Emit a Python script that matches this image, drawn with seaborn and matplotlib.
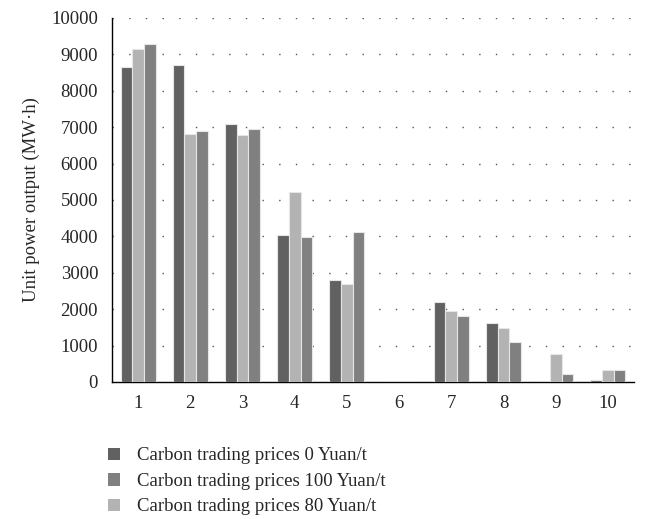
import matplotlib
matplotlib.use("Agg")
import matplotlib.pyplot as plt
from matplotlib.patches import Patch
import seaborn as sns
import pandas as pd

units = ["1", "2", "3", "4", "5", "6", "7", "8", "9", "10"]
price_0 = [8650, 8700, 7100, 4050, 2800, 0, 2200, 1620, 0, 50]
price_80 = [9150, 6800, 6780, 5230, 2700, 0, 1950, 1490, 760, 320]
price_100 = [9280, 6900, 6950, 3980, 4120, 0, 1800, 1090, 230, 320]

series_names = [
    "Carbon trading prices 0 Yuan/t",
    "Carbon trading prices 80 Yuan/t",
    "Carbon trading prices 100 Yuan/t",
]
series_values = [price_0, price_80, price_100]
series_colors = ["#616161", "#b3b3b3", "#808080"]
legend_order = [0, 2, 1]

rows = []
for name, vals in zip(series_names, series_values):
    for u, v in zip(units, vals):
        rows.append({"unit": u, "series": name, "value": v})
df = pd.DataFrame(rows)

sns.set_style("white")
plt.rcParams["font.family"] = ["Liberation Serif", "DejaVu Serif"]
plt.rcParams["font.size"] = 13.5

fig = plt.figure(figsize=(6.45, 5.19), dpi=100)
ax = fig.add_axes([112 / 645, 1 - 382 / 519, (634 - 112) / 645, (382 - 18) / 519])

palette = dict(zip(series_names, series_colors))
sns.barplot(
    data=df, x="unit", y="value", hue="series", order=units,
    hue_order=series_names, palette=palette, width=0.67,
    edgecolor="#e6e6e6", linewidth=0.8, saturation=1, ax=ax, legend=False,
    zorder=3,
)

ax.set_xlim(-0.5, len(units) - 0.5)
ax.set_ylim(0, 10000)
ax.set_yticks(range(0, 10001, 1000))

# dotted horizontal guides behind the bars
for yv in range(1000, 10001, 1000):
    ax.axhline(yv, color="#555555", linestyle=(0, (1, 11)), linewidth=1.0, zorder=1)

for s in ["top", "right"]:
    ax.spines[s].set_visible(False)
for s in ["left", "bottom"]:
    ax.spines[s].set_color("black")
    ax.spines[s].set_linewidth(1.0)

ax.set_xticks([i - 0.5 for i in range(len(units) + 1)], minor=True)
ax.tick_params(axis="x", which="minor", direction="out", length=5, width=1, color="black")
ax.tick_params(axis="x", which="major", length=0, pad=9, labelsize=13.5)
ax.tick_params(axis="y", which="major", direction="out", length=4, width=1,
               color="black", pad=6, labelsize=13.5)

ax.set_xlabel("")
ax.set_ylabel("Unit power output (MW·h)", fontsize=13.5, labelpad=8)

handles = [Patch(facecolor=series_colors[i], edgecolor="none") for i in legend_order]
labels = [series_names[i] for i in legend_order]
fig.legend(
    handles, labels, loc="upper left", bbox_to_anchor=(100 / 645, 1 - 440 / 519),
    frameon=False, handlelength=0.65, handleheight=0.65, handletextpad=0.9,
    labelspacing=0.45, fontsize=13.5, borderaxespad=0,
)

fig.savefig("out.png", dpi=100)
